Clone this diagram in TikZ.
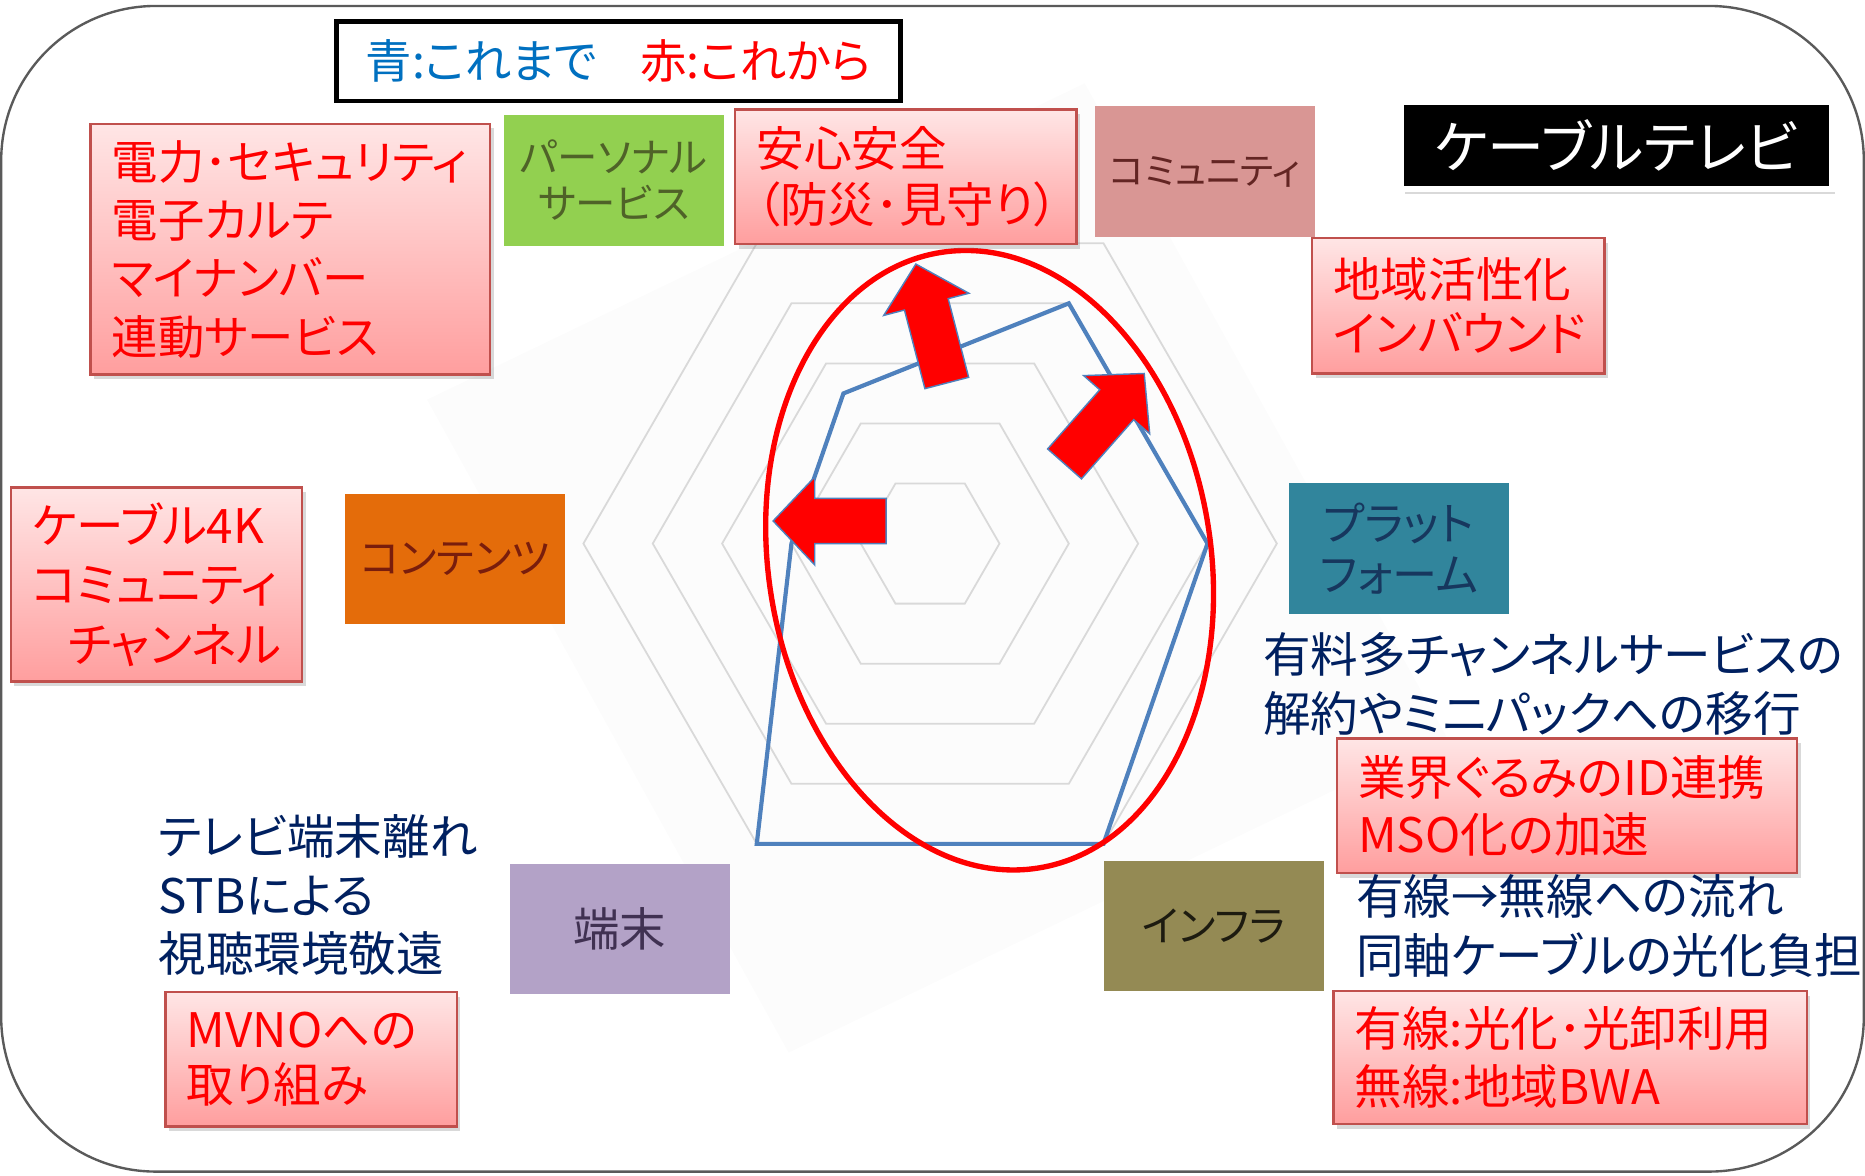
\documentclass[tikz,border=0pt]{standalone}
\usepackage{fontspec}
\setmainfont[RawFeature=+palt]{Noto Sans CJK JP}
\usepackage{tikz}
\usetikzlibrary{calc,shadows}

\definecolor{kore}{RGB}{0,112,192}
\definecolor{navy}{RGB}{0,32,96}
\definecolor{boxborder}{RGB}{192,80,77}
\definecolor{chartblue}{RGB}{79,129,189}
\definecolor{gridgray}{RGB}{217,217,217}
\definecolor{framegray}{RGB}{90,90,90}
\definecolor{persfill}{RGB}{146,208,80}
\definecolor{perstext}{RGB}{79,98,40}
\definecolor{commfill}{RGB}{217,150,148}
\definecolor{commtext}{RGB}{99,37,35}
\definecolor{contfill}{RGB}{228,108,10}
\definecolor{conttext}{RGB}{121,29,12}
\definecolor{platfill}{RGB}{49,133,156}
\definecolor{plattext}{RGB}{23,55,94}
\definecolor{termfill}{RGB}{179,162,199}
\definecolor{termtext}{RGB}{64,49,82}
\definecolor{infrafill}{RGB}{148,138,84}
\definecolor{infratext}{RGB}{29,27,16}

\newcommand{\jsize}[2]{\fontsize{#1}{#2}\selectfont}
\newcommand{\blockarrow}[2]{%
  \coordinate (#1h) at ($(#2)!35pt!(#1)$);
  \filldraw[bigarrow] ($(#1)!19pt!90:(#2)$) -- ($(#1h)!19pt!90:(#2)$)
    -- ($(#1h)!37pt!90:(#2)$) -- (#2) -- ($(#1h)!37pt!-90:(#2)$)
    -- ($(#1h)!19pt!-90:(#2)$) -- ($(#1)!19pt!-90:(#2)$) -- cycle;}

\begin{document}
\begin{tikzpicture}[x=1pt,y=-1pt,
  redbox/.style={anchor=north west, draw=boxborder, line width=2pt,
    top color=red!10, bottom color=red!38,
    drop shadow={shadow xshift=3pt, shadow yshift=-4pt, opacity=0.3},
    text=red, align=left, inner xsep=18pt, inner ysep=0pt},
  catbox/.style={minimum width=185pt, minimum height=110pt, align=center, inner sep=0pt},
  navytext/.style={anchor=west, inner sep=0pt, text=navy, align=left, font=\jsize{40}{49}},
  hexline/.style={gridgray, line width=1.5pt},
  bigarrow/.style={fill=red, draw=chartblue, line width=1.2pt, line join=miter}]

\useasboundingbox (0,0) rectangle (1568,988);
\draw[framegray, line width=2pt, rounded corners=130pt] (1,5) rectangle (1567,985);

% radar chart
\fill[black!1.2] (359,336) -- (912,70) -- (1216,619) -- (663,885) -- cycle;
\coordinate (c) at (782,457);
\foreach \r in {1,...,5}
  \draw[hexline] ($(c)+(0:\r*58.3)$) -- ($(c)+(60:\r*58.3)$) -- ($(c)+(120:\r*58.3)$)
    -- ($(c)+(180:\r*58.3)$) -- ($(c)+(240:\r*58.3)$) -- ($(c)+(300:\r*58.3)$) -- cycle;
\coordinate (vplat) at ($(c)+(0:4*58.3)$);
\coordinate (vcomm) at ($(c)+(300:4*58.3)$);
\coordinate (vpers) at ($(c)+(240:2.5*58.3)$);
\coordinate (vcont) at ($(c)+(180:2*58.3)$);
\coordinate (vterm) at ($(c)+(120:5*58.3)$);
\coordinate (vinfra) at ($(c)+(60:5*58.3)$);
\draw[chartblue, line width=3.5pt, line join=miter]
  (vplat) -- (vcomm) -- (vpers) -- (vcont) -- (vterm) -- (vinfra) -- cycle;

\draw[red, line width=4.5pt, rotate around={9:(832,471)}] (832,471) ellipse [x radius=186, y radius=262];

\coordinate (ltail) at (745,438);  \coordinate (ltip) at (650,438);
\coordinate (utail) at (796,322);  \coordinate (utip) at (770,222);
\coordinate (rtail) at (895,390);  \coordinate (rtip) at (962,314);
\blockarrow{ltail}{ltip}
\blockarrow{utail}{utip}
\blockarrow{rtail}{rtip}

% legend and title
\node[draw=black, fill=white, line width=4pt, minimum width=474pt, minimum height=67pt,
  font=\jsize{39}{46}] (legend) at (520,51.5)
  {\textcolor{kore}{青:これまで}\hspace{36pt}\textcolor{red}{赤:これから}};
\node[fill=black, draw=white, line width=5pt, minimum width=362pt, minimum height=73pt,
  text=white, font=\jsize{48}{54},
  drop shadow={shadow xshift=3pt, shadow yshift=-4pt, opacity=0.3}] (catv) at (1359,122.5) {ケーブルテレビ};

% axis boxes
\node[catbox, fill=persfill, text=perstext, font=\jsize{34}{39}] (personal) at (516,151.5) {パーソナル\\サービス};
\node[catbox, fill=commfill, text=commtext, font=\jsize{31}{36}] (community) at (1013,144.5) {コミュニティ};
\node[catbox, fill=contfill, text=conttext, font=\jsize{35}{40}] (contents) at (382.5,470) {コンテンツ};
\node[catbox, fill=platfill, text=plattext, font=\jsize{38}{43}] (platform) at (1176,461) {プラット\\フォーム};
\node[catbox, fill=termfill, text=termtext, font=\jsize{39}{44}] (terminal) at (521,781) {端末};
\node[catbox, fill=infrafill, text=infratext, font=\jsize{35}{40}] (infra) at (1020.5,778.5) {インフラ};

% red notes
\node[redbox, text width=300pt, minimum height=211pt, font=\jsize{39}{49}] (denryoku) at (75,103)
  {電力･セキュリティ\\電子カルテ\\マイナンバー\\連動サービス};
\node[redbox, text width=251pt, minimum height=113pt, font=\jsize{40}{47}] (anshin) at (617,91)
  {安心安全\\（防災･見守り）};
\node[redbox, text width=210pt, minimum height=114pt, font=\jsize{40}{46}] (chiiki) at (1102,199)
  {地域活性化\\インバウンド};
\node[redbox, text width=209pt, minimum height=163pt, font=\jsize{40}{50}] (cable4k) at (8,409)
  {ケーブル4K\\コミュニティ\\\hspace*{30pt}チャンネル};
\node[redbox, text width=351pt, minimum height=113pt, font=\jsize{40}{48}] (gyokai) at (1123,620)
  {業界ぐるみのID連携\\MSO化の加速};
\node[redbox, text width=209pt, minimum height=113pt, font=\jsize{40}{47}] (mvno) at (138,833)
  {MVNOへの\\取り組み};
\node[redbox, text width=362pt, minimum height=112pt, font=\jsize{40}{49}] (yusen) at (1120,832)
  {有線:光化･光卸利用\\無線:地域BWA};

% blue notes
\node[navytext] (churn) at (1062,575) {有料多チャンネルサービスの\\解約やミニパックへの移行};
\node[navytext] (tvaway) at (133,752.5) {テレビ端末離れ\\STBによる\\視聴環境敬遠};
\node[navytext] (wireless) at (1140,778.5) {有線→無線への流れ\\同軸ケーブルの光化負担};

\end{tikzpicture}
\end{document}
